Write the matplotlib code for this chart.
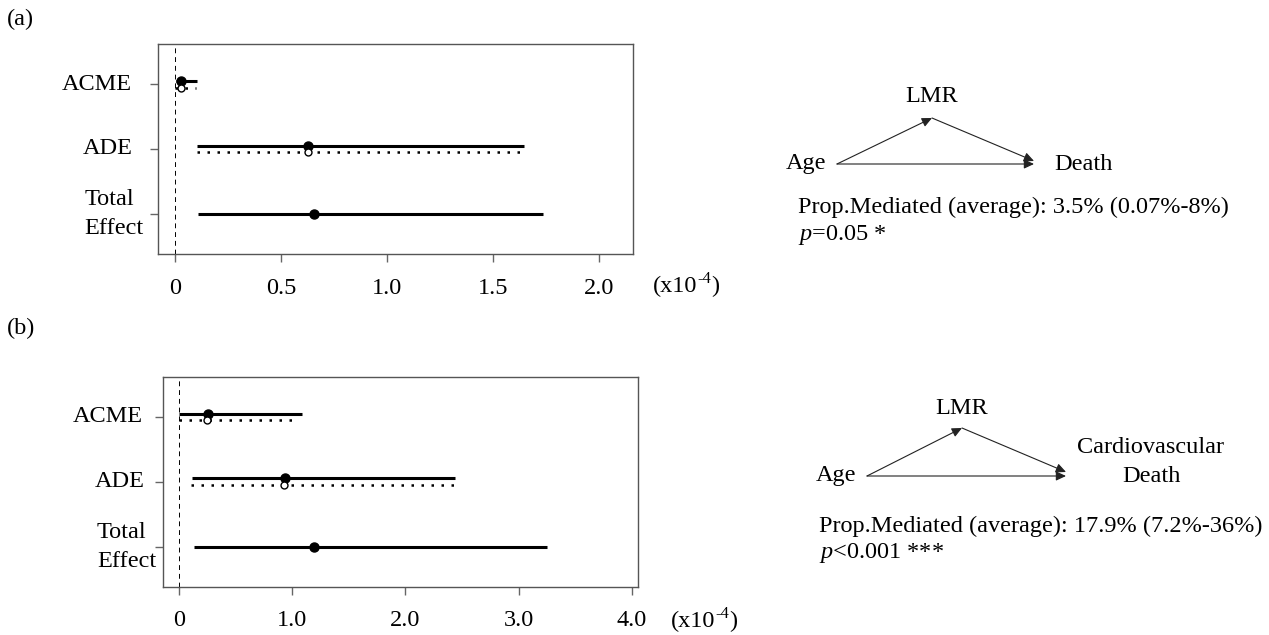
import matplotlib
matplotlib.use("Agg")
import matplotlib.pyplot as plt
import matplotlib.transforms as mtransforms

# ---------------- data ----------------
categories = ["ACME", "ADE", "Total\nEffect"]

a_treated_est = [0.029, 0.628, 0.653]
a_treated_lo = [0.002, 0.104, 0.108]
a_treated_hi = [0.104, 1.646, 1.737]
a_control_est = [0.029, 0.626]
a_control_lo = [0.0, 0.104]
a_control_hi = [0.098, 1.630]

b_treated_est = [0.26, 0.935, 1.19]
b_treated_lo = [0.0, 0.118, 0.137]
b_treated_hi = [1.088, 2.44, 3.25]
b_control_est = [0.25, 0.93]
b_control_lo = [0.0, 0.11]
b_control_hi = [1.04, 2.43]

a_ticks = [0, 0.5, 1.0, 1.5, 2.0]
a_ticklabels = ["0", "0.5", "1.0", "1.5", "2.0"]
b_ticks = [0, 1, 2, 3, 4]
b_ticklabels = ["0", "1.0", "2.0", "3.0", "4.0"]

scale_base, scale_exp, scale_close = "(x10", "-4", ")"
panel_labels = ["(a)", "(b)"]

a_mediator, a_exposure, a_outcome = "LMR", "Age", "Death"
a_prop = "Prop.Mediated (average): 3.5% (0.07%-8%)"
a_p = r"$p$=0.05 *"
b_mediator, b_exposure, b_outcome = "LMR", "Age", "Cardiovascular\nDeath"
b_prop = "Prop.Mediated (average): 17.9% (7.2%-36%)"
b_p = r"$p$<0.001 ***"

# ---------------- style ----------------
plt.rcParams["font.family"] = ["Liberation Serif", "DejaVu Serif"]
plt.rcParams["mathtext.fontset"] = "custom"
plt.rcParams["mathtext.rm"] = "Liberation Serif"
plt.rcParams["mathtext.it"] = "Liberation Serif:italic"
FS = 17.5
W, H = 1269, 635
fig = plt.figure(figsize=(W / 100, H / 100), dpi=100)


def px_axes(l, t, r, b):
    return [l / W, 1 - b / H, (r - l) / W, (b - t) / H]


def forest(ax, t_est, t_lo, t_hi, c_est, c_lo, c_hi, ticks, ticklabels, xlim,
           lab_right, lab_left_total):
    ys = list(range(1, len(categories) + 1))
    off = 0.052
    for i, y in enumerate(ys):
        yy = y - off if i < len(c_est) else y
        ax.plot([t_lo[i], t_hi[i]], [yy, yy], color="black", lw=2.2,
                solid_capstyle="butt", zorder=3)
        ax.plot([t_est[i]], [yy], "o", color="black", ms=6.5, zorder=4)
    for i in range(len(c_est)):
        yy = ys[i] + off
        ax.plot([c_lo[i], c_hi[i]], [yy, yy], color="black", lw=1.8,
                linestyle=(0, (1, 3)), zorder=3)
        ax.plot([c_est[i]], [yy], "o", mfc="white", mec="black", mew=1.0,
                ms=5, zorder=4)
    ax.axvline(0, color="black", lw=0.7, linestyle=(0, (5, 4)), zorder=2)
    ax.set_xlim(*xlim)
    ax.set_ylim(3.62, 0.38)
    ax.set_xticks(ticks)
    ax.set_xticklabels(ticklabels, fontsize=FS)
    ax.set_yticks(ys)
    ax.set_yticklabels([])
    ax.tick_params(axis="both", length=6, width=1, color="#666666")
    ax.tick_params(axis="x", pad=11)
    for s in ax.spines.values():
        s.set_color("#555555")
        s.set_linewidth(1)
    tr = mtransforms.blended_transform_factory(ax.transAxes, ax.transData)
    for i, (y, c) in enumerate(zip(ys, categories)):
        if "\n" in c:
            ax.text(lab_left_total, y, c, transform=tr, ha="left", va="center",
                    fontsize=FS, linespacing=1.5)
        else:
            ax.text(lab_right[i], y, c, transform=tr, ha="right",
                    va="center", fontsize=FS)


ax_a = fig.add_axes(px_axes(158.4, 44, 633, 254))
forest(ax_a, a_treated_est, a_treated_lo, a_treated_hi, a_control_est,
       a_control_lo, a_control_hi, a_ticks, a_ticklabels, (-0.079, 2.16),
       [-0.0557, -0.0545], -0.156)

ax_b = fig.add_axes(px_axes(162.9, 376.7, 637.6, 586.7))
forest(ax_b, b_treated_est, b_treated_lo, b_treated_hi, b_control_est,
       b_control_lo, b_control_hi, b_ticks, b_ticklabels, (-0.141, 4.05),
       [-0.0417, -0.0373], -0.139)

# ---------------- overlay for annotations / diagrams ----------------
ov = fig.add_axes([0, 0, 1, 1])
ov.set_xlim(0, W)
ov.set_ylim(H, 0)
ov.axis("off")
ov.patch.set_alpha(0)

ov.text(7, 19, panel_labels[0], fontsize=FS, ha="left", va="center")
ov.text(7, 328, panel_labels[1], fontsize=FS, ha="left", va="center")

renderer = fig.canvas.get_renderer()


def scale_text(x, y):
    t1 = ov.text(x, y, scale_base, fontsize=FS, ha="left", va="center")
    w1 = t1.get_window_extent(renderer).width
    t2 = ov.text(x + w1, y - 7, scale_exp, fontsize=FS * 0.68, ha="left",
                 va="center")
    w2 = t2.get_window_extent(renderer).width
    ov.text(x + w1 + w2, y, scale_close, fontsize=FS, ha="left", va="center")


scale_text(653, 286)
scale_text(671, 621)


def arrow(p0, p1):
    ov.annotate("", xy=p1, xytext=p0,
                arrowprops=dict(arrowstyle="-|>,head_length=0.6,head_width=0.28",
                                color="#222222", lw=0.8, shrinkA=0, shrinkB=0,
                                mutation_scale=10))


def diagram(age_xy, start, top, end_h, end_d, lmr_xy, out_xy, prop_xy, p_xy,
            med, expo, outc, prop, ptxt):
    ov.text(*age_xy, expo, fontsize=FS, ha="left", va="center")
    ov.text(*lmr_xy, med, fontsize=FS, ha="center", va="center")
    ov.text(*out_xy, outc, fontsize=FS, ha="center", va="center",
            linespacing=1.5)
    arrow(start, end_h)
    arrow(start, top)
    arrow(top, end_d)
    ov.text(*prop_xy, prop, fontsize=FS, ha="left", va="center")
    ov.text(*p_xy, ptxt, fontsize=FS, ha="left", va="center")


diagram((786, 164), (837, 164), (932, 118), (1034, 164), (1034, 161),
        (932, 97), (1083, 164), (798, 207), (798, 235),
        a_mediator, a_exposure, a_outcome, a_prop, a_p)

diagram((816, 476), (867, 476), (962, 428), (1066, 476), (1066, 472),
        (962, 408), (1151, 462), (819, 526), (819, 553),
        b_mediator, b_exposure, b_outcome, b_prop, b_p)

fig.savefig("out.png", dpi=100)
